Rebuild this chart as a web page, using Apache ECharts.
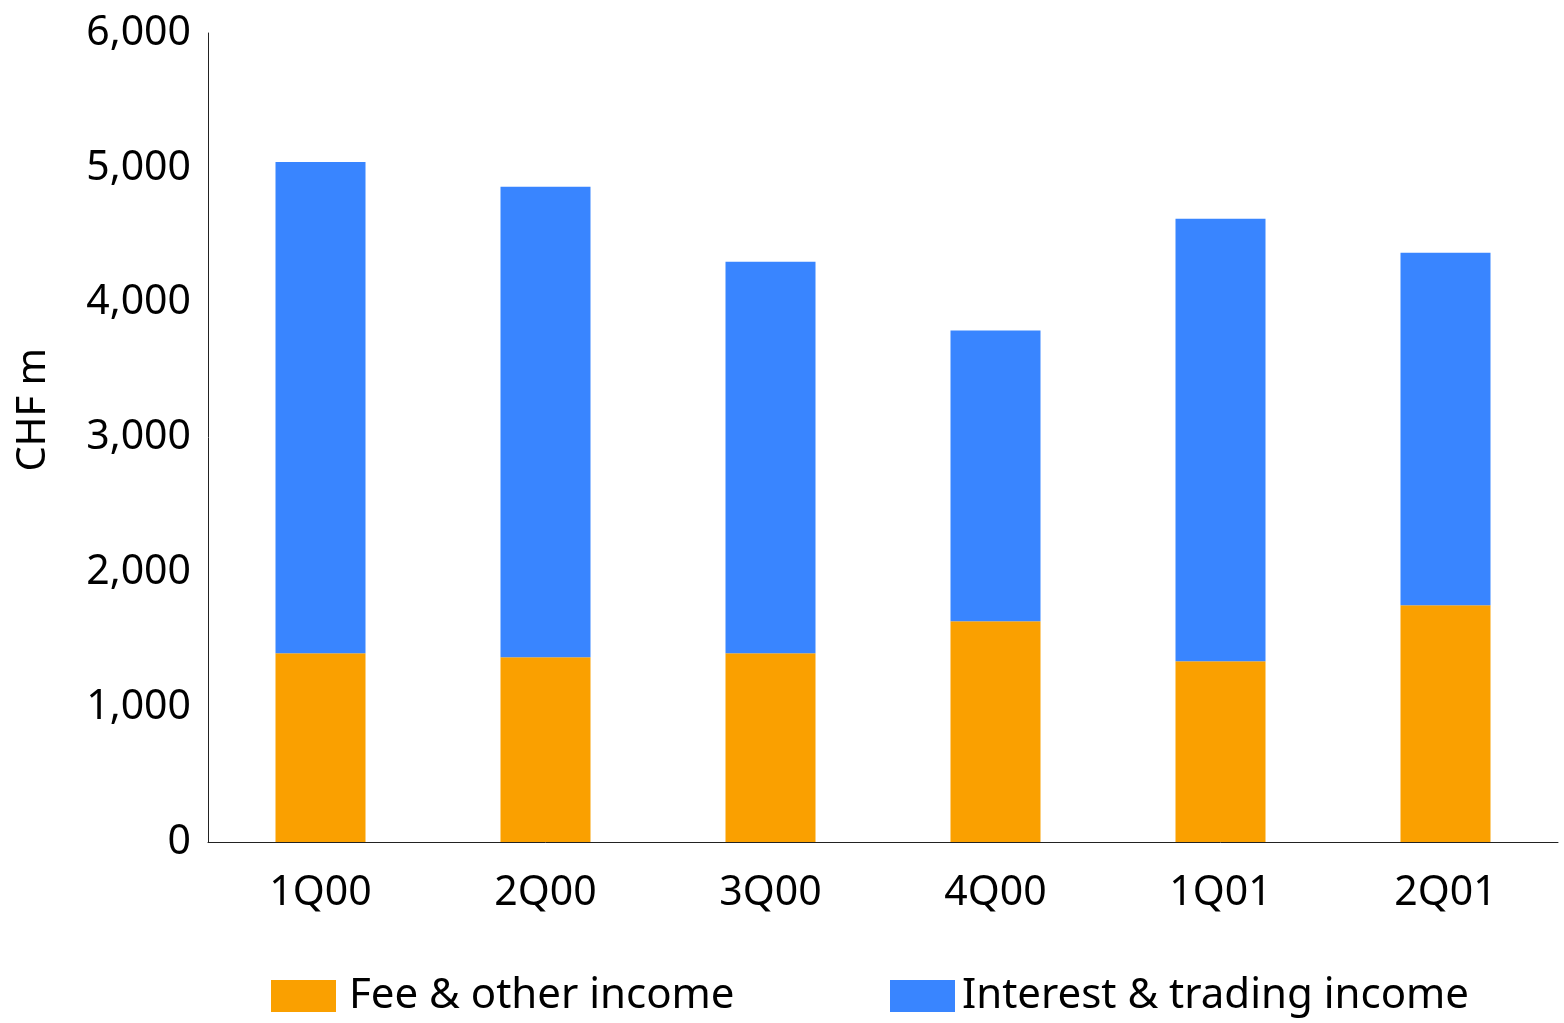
<!DOCTYPE html>
<html><head><meta charset="utf-8">
<script src="https://cdn.jsdelivr.net/npm/echarts@6/dist/echarts.min.js"></script>
<style>html,body{margin:0;padding:0;background:#fff}#c{width:1564px;height:1023px}</style>
</head><body><div id="c"></div>
<script>
const categories = ['1Q00','2Q00','3Q00','4Q00','1Q01','2Q01'];
const feeIncome = [1400, 1370, 1400, 1637, 1341, 1756];
const interestIncome = [3644, 3489, 2904, 2156, 3281, 2614];
const yTicks = [0, 1000, 2000, 3000, 4000, 5000, 6000];
const seriesNames = ['Fee & other income', 'Interest & trading income'];
const yAxisTitle = 'CHF m';

const FONT = 'Noto Sans';
const chart = echarts.init(document.getElementById('c'));
chart.setOption({
  animation: false,
  backgroundColor: '#fff',
  textStyle: { fontFamily: FONT },
  grid: { left: 208, right: 6, top: 33, bottom: 181 },
  legend: [
    { data: [seriesNames[0]], left: 271, top: 975, padding: 0, itemWidth: 65, itemHeight: 32, itemGap: 0,
      textStyle: { fontSize: 42, color: '#000', fontFamily: FONT, padding: [10,0,0,8] }, icon: 'rect' },
    { data: [seriesNames[1]], left: 890, top: 975, padding: 0, itemWidth: 65, itemHeight: 32, itemGap: 0,
      textStyle: { fontSize: 42, color: '#000', fontFamily: FONT, padding: [10,0,0,2] }, icon: 'rect' }
  ],
  graphic: [{
    type: 'text', left: 14, top: 348, rotation: Math.PI/2,
    style: { text: yAxisTitle, fontSize: 40, fontFamily: FONT, fill: '#000' }
  }],
  xAxis: {
    type: 'category', data: categories,
    axisLine: { lineStyle: { color: '#222', width: 1 } },
    axisTick: { show: false },
    axisLabel: { fontSize: 41, color: '#000', margin: 31, fontFamily: FONT }
  },
  yAxis: {
    type: 'value', min: yTicks[0], max: yTicks[yTicks.length-1], interval: 1000,
    axisLine: { show: true, lineStyle: { color: '#222', width: 1 } },
    axisTick: { show: false },
    splitLine: { show: false },
    axisLabel: { fontSize: 41, color: '#000', margin: 17, fontFamily: FONT,
      formatter: v => v.toLocaleString('en-US') }
  },
  series: [
    { name: seriesNames[0], type: 'bar', stack: 't', data: feeIncome, barWidth: '40%',
      itemStyle: { color: '#FAA000' } },
    { name: seriesNames[1], type: 'bar', stack: 't', data: interestIncome, barWidth: '40%',
      itemStyle: { color: '#3985FF' } }
  ]
});
</script></body></html>
